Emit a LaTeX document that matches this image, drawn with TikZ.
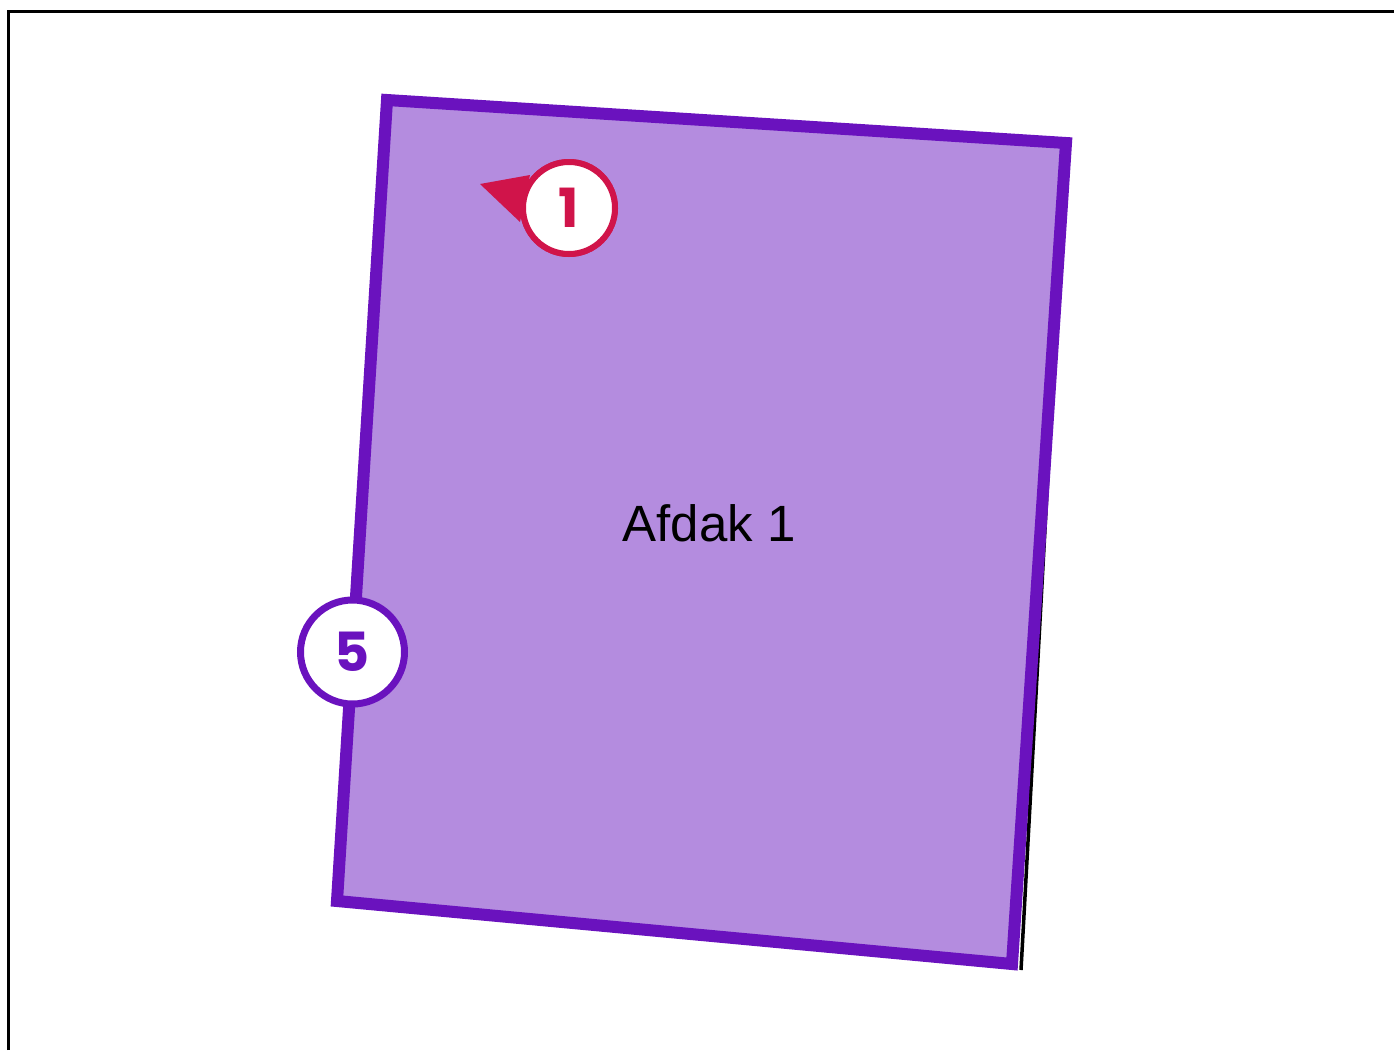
\documentclass[tikz,border=0pt]{standalone}
\usepackage{fontspec}
\setmainfont{Liberation Sans}
\newfontfamily\badgefont{Poppins}
\definecolor{shedfill}{RGB}{180, 140, 223}
\definecolor{shedline}{RGB}{106, 18, 190}
\definecolor{markred}{RGB}{208, 20, 74}
\usepackage{tikz}
\usetikzlibrary{positioning}

\begin{document}
\begin{tikzpicture}[
    x=1pt, y=-1pt,
    shed/.style={fill=shedfill, draw=shedline, line width=12pt, line join=miter},
    badge/.style={circle, fill=white, line width=6pt, minimum size=92pt,
                  inner sep=0pt, font=\badgefont\bfseries\fontsize{54}{54}\selectfont},
    label/.style={font=\fontsize{51}{51}\selectfont, text=black}
  ]
    \useasboundingbox (0,0) rectangle (1394,1050);
    % frame
    \draw[line width=3pt] (8,1050) -- (8,11) -- (1394,11);
    % corners of the shed
    \coordinate (tl) at (387,100);
    \coordinate (tr) at (1066,143);
    \coordinate (br) at (1012,964);
    \coordinate (bl) at (337,901);
    \coordinate (brs) at (1021,970);
    % shadow edge on the right side
    \draw[line width=3.5pt] (tr) -- (brs);
    % shed
    \draw[shed] (tl) -- (tr) -- (br) -- (bl) -- cycle;
    \node[label] (name) at (709,523) {Afdak 1};
    % marker 1
    \coordinate (tip) at (480,184);
    \node[badge, draw=markred, text=markred] (m1) at (569,208) {1};
    \fill[markred] (tip) -- (530,175) -- (520,222) -- cycle;
    \node[badge, draw=markred, text=markred] at (m1) {1};
    % marker 5
    \node[badge, draw=shedline, text=shedline, minimum size=104pt, line width=7pt] (m5) at (352.5,652) {5};
\end{tikzpicture}
\end{document}
